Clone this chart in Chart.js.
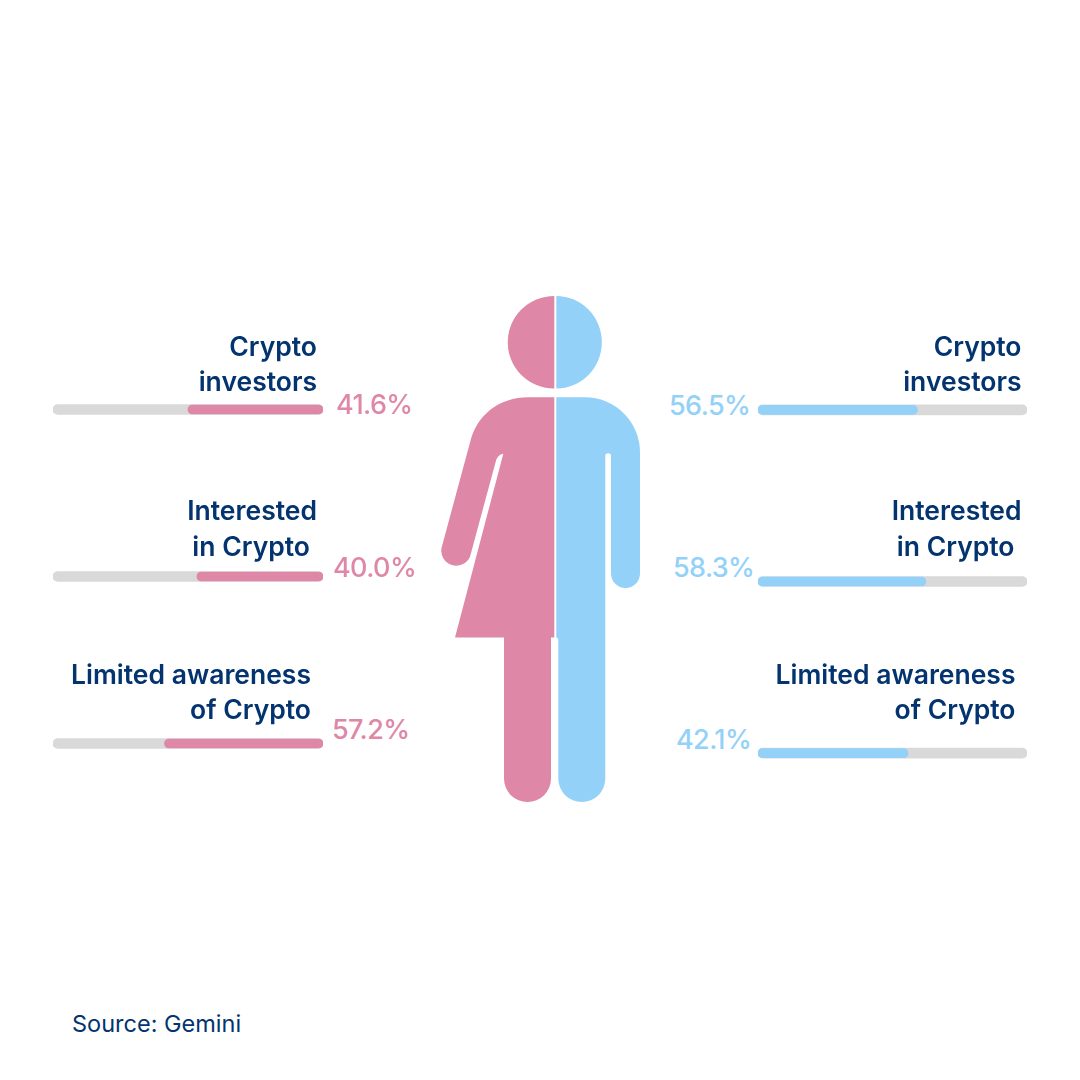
<!DOCTYPE html>
<html>
<head>
<meta charset="utf-8">
<script src="https://cdn.jsdelivr.net/npm/chart.js@4"></script>
<style>
    html, body { margin: 0; padding: 0; background: #fff; }
    #page { position: relative; width: 1080px; height: 1080px; overflow: hidden; font-family: Inter, sans-serif; }
    #page canvas { position: absolute; }
    #figure { position: absolute; left: 0; top: 0; }
    .txt { position: absolute; white-space: pre; line-height: 1; }
    .caption { font-size: 26.5px; font-weight: 600; color: #04346f; }
    .value { font-size: 27px; font-weight: 500; letter-spacing: -0.6px; }
    .source { font-size: 23.5px; font-weight: 400; color: #04346f; }
</style>
</head>
<body>
<div id="page">
    <svg id="figure" width="1080" height="1080" viewBox="0 0 1080 1080">
        <path fill="#de87a6" d="M554.3 296 A46.6 46.3 0 0 0 554.3 388.6 Z"/>
        <path fill="#93d1f9" d="M556.3 296 A45.5 46.3 0 0 1 556.3 388.6 Z"/>
        <path fill="#de87a6" d="M554.3 397.3 L528 397.3 C500 397.3 478 414 470.7 440 L441.5 548 A15 15 0 0 0 470 556.7 L495.7 461.7 Q497.5 454.5 503.3 453.7 L455 637.5 L504 637.5 L504 778.6 A23.5 23.5 0 0 0 551 778.6 L551 637.5 L554.3 637.5 Z"/>
        <path fill="#93d1f9" d="M556.3 397.3 L585 397.3 A55 55 0 0 1 640 452.3 L640 573.5 A14.5 14.5 0 0 1 611 573.5 L611 456 A2.8 2.8 0 0 0 605.3 456 L605.3 778.6 A23.5 23.5 0 0 1 558.3 778.6 L558.3 640 Q558.3 637.5 556.3 637.5 Z"/>
    </svg>
    <canvas id="womenChart"></canvas>
    <canvas id="menChart"></canvas>
</div>
<script>
const categories = ['Crypto investors', 'Interested in Crypto', 'Limited awareness of Crypto'];
const womenLabels = ['41.6%', '40.0%', '57.2%'];
const menLabels = ['56.5%', '58.3%', '42.1%'];
// bar lengths in the picture do not follow the printed numbers, so they are kept apart
const womenBars = [50, 46.7, 58.7];
const menBars = [59.3, 62.4, 55.8];
const trackValues = [100, 100, 100];
const captionLines = [['Crypto', 'investors'], ['Interested', 'in Crypto'], ['Limited awareness', 'of Crypto']];

const PINK = '#de87a6';
const BLUE = '#93d1f9';
const GREY = '#d9d9d9';
const page = document.getElementById('page');

function makeBars(id, box, values, color, reverse) {
    const canvas = document.getElementById(id);
    canvas.style.left = box.left + 'px';
    canvas.style.top = box.top + 'px';
    canvas.width = box.width;
    canvas.height = box.height;
    canvas.style.width = box.width + 'px';
    canvas.style.height = box.height + 'px';
    return new Chart(canvas, {
        type: 'bar',
        data: {
            labels: categories,
            datasets: [
                {data: values, backgroundColor: color, barThickness: 9, borderRadius: 4.5, borderSkipped: false},
                {data: trackValues, backgroundColor: GREY, barThickness: 10, borderRadius: 5, borderSkipped: false}
            ]
        },
        options: {
            indexAxis: 'y',
            responsive: false,
            animation: false,
            grouped: false,
            layout: {padding: 0},
            plugins: {legend: {display: false}, tooltip: {enabled: false}},
            scales: {
                x: {display: false, min: 0, max: 100, reverse: reverse},
                y: {display: false}
            }
        }
    });
}

makeBars('womenChart', {left: 53, top: 326, width: 270, height: 501}, womenBars, PINK, true);
makeBars('menChart', {left: 758, top: 324, width: 269, height: 515}, menBars, BLUE, false);

function addText(text, cls, x, y, anchor, color) {
    const el = document.createElement('div');
    el.className = 'txt ' + cls;
    el.textContent = text;
    el.style.top = y + 'px';
    el.style.transform = 'translateY(-50%)';
    if (anchor === 'right') {
        el.style.right = (1080 - x) + 'px';
    } else {
        el.style.left = x + 'px';
    }
    if (color) el.style.color = color;
    page.appendChild(el);
}

// caption right edges and line centres, left side then right side
const captionRight = [[317, 317], [317, 310], [311, 311]];
const captionY = [[346, 381], [510, 546], [674, 709]];
const sideShift = [0, 704.5];
sideShift.forEach(shift => {
    captionLines.forEach((lines, i) => {
        lines.forEach((line, j) => {
            addText(line, 'caption', captionRight[i][j] + shift, captionY[i][j], 'right');
        });
    });
});

const womenValueX = [336, 333, 332];
const womenValueY = [404, 567, 729];
const menValueX = [669, 673, 676];
const menValueY = [405, 567, 739];
womenLabels.forEach((label, i) => addText(label, 'value', womenValueX[i], womenValueY[i], 'left', PINK));
menLabels.forEach((label, i) => addText(label, 'value', menValueX[i], menValueY[i], 'left', BLUE));

addText('Source: Gemini', 'source', 72, 1023.5, 'left');
</script>
</body>
</html>
